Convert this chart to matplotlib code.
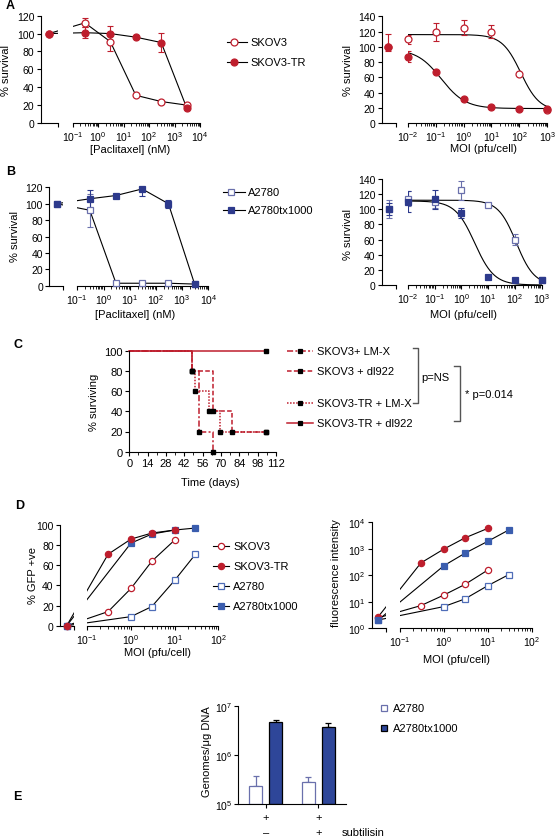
import numpy as np
import matplotlib
matplotlib.use('Agg')
import matplotlib.pyplot as plt
from matplotlib.lines import Line2D
from matplotlib.patches import Rectangle
from matplotlib import transforms
from matplotlib.ticker import (LogLocator, NullFormatter, FixedLocator,
                               LogFormatterMathtext, NullLocator, MultipleLocator)

# ---------------- data ----------------
CTRL = 100.0

# A left: paclitaxel dose response
pac_dose = [0.3, 3, 30, 300, 3000]
a1_skov3 = [112, 91, 31, 24, 20]
a1_skov3_err = [5, 10, 0, 0, 0]
a1_tr = [101, 100, 96, 90, 17]
a1_tr_err = [6, 9, 0, 11, 0]

# A right: MOI dose response (with fitted curves)
moi_6 = [0.01, 0.1, 1, 10, 100, 1000]
a2_skov3 = [110, 119, 125, 120, 64, 17]
a2_skov3_err = [6, 12, 10, 8, 0, 0]
a2_tr = [87, 67, 31, 21, 18, 19]
a2_tr_err = [7, 0, 0, 0, 0, 0]
a2_skov3_fit = [116, 16, 2.05, 1.3]   # top, bottom, logEC50, hill
a2_tr_fit = [97, 19, -0.8, 1.0]

# B left
b1_a2780 = [92, 3, 3, 3, 2]
b1_a2780_err = [20, 0, 0, 0, 0]
b1_tx = [106, 110, 118, 100, 2]
b1_tx_err = [11, 0, 8, 5, 0]

# B right
b2_a2780 = [114, 110, 125, 106, 60, 6]
b2_a2780_err = [10, 8, 13, 0, 7, 0]
b2_tx = [110, 113, 95, 11, 7, 6]
b2_tx_err = [14, 13, 7, 0, 0, 0]
b2_a2780_fit = [112, 0, 2.05, 1.3]
b2_tx_fit = [111, 0, 0.5, 1.2]

# C survival
c_labels = ['SKOV3+ LM-X', 'SKOV3 + dl922', 'SKOV3-TR + LM-X', 'SKOV3-TR + dl922']
c_times = [[0, 47.5, 53, 64],
           [0, 47.5, 64, 78.5, 104],
           [0, 48, 50, 61, 69.5, 104],
           [0, 104]]
c_surv = [[100, 80, 20, 0],
          [100, 80, 40, 20, 20],
          [100, 80, 60, 40, 20, 20],
          [100, 100]]

# D: GFP
d_labels = ['SKOV3', 'SKOV3-TR', 'A2780', 'A2780tx1000']
d_moi_skov = [0.3, 1, 3, 10]
d_moi_a2780 = [1, 3, 10, 30]
d_gfp_skov3 = [14, 37, 64, 85]
d_gfp_tr = [71, 86, 92, 95]
d_gfp_a2780 = [9, 19, 45, 71]
d_gfp_tx = [82, 91, 95, 97]
d_gfp_ctrl = [0, 0, 0, 0]
d_fl_skov3 = [7.2, 18, 45, 158]
d_fl_tr = [294, 980, 2570, 5900]
d_fl_a2780 = [6.6, 12.8, 40.7, 106]
d_fl_tx = [231, 676, 1920, 5130]
d_fl_ctrl = [2.5, 2.76, 2.06, 2.06]

# E: genomes
e_groups = ['-', '+']
e_a2780 = [2.3e5, 2.8e5]
e_a2780_errtop = [3.7e5, 3.5e5]
e_tx = [4.6e6, 3.7e6]
e_tx_errtop = [5.1e6, 4.5e6]

# ---------------- style ----------------
plt.rcParams['font.family'] = ['Liberation Sans', 'DejaVu Sans']
plt.rcParams['mathtext.fontset'] = 'custom'
plt.rcParams['mathtext.rm'] = 'Liberation Sans'
plt.rcParams['mathtext.it'] = 'Liberation Sans:italic'
plt.rcParams['mathtext.bf'] = 'Liberation Sans:bold'
plt.rcParams['font.size'] = 7
plt.rcParams['axes.linewidth'] = 0.8

TICKFS = 7.5
RED = '#BE1E2D'
NAVY = '#2D3A8C'
NAVY_OPEN = '#6A70AC'
BLUE = '#3A5DAE'
BLUE_OPEN = '#4F6DB8'
EBLUE = '#2E4699'

W, H = 556, 837
fig = plt.figure(figsize=(W / 100, H / 100), dpi=100)


def fx(x):
    return x / W


def fy(y):
    return 1 - y / H


def add_axes_px(x0, x1, ytop, ybot):
    ax = fig.add_axes([x0 / W, 1 - ybot / H, (x1 - x0) / W, (ybot - ytop) / H])
    ax.patch.set_visible(False)
    ax.spines['top'].set_visible(False)
    ax.spines['right'].set_visible(False)
    ax.tick_params(which='major', direction='out', length=3, width=0.8, labelsize=TICKFS, pad=1.5)
    ax.tick_params(which='minor', direction='out', length=1.8, width=0.6)
    return ax


def broken(left, end1, start2, end2, ytop, ybot, d0, d1, ctrl_px, ylog=False):
    dec = (end2 - start2) / (d1 - d0)
    a1 = add_axes_px(left, end1, ytop, ybot)
    a2 = add_axes_px(start2, end2, ytop, ybot)
    for a in (a1, a2):
        a.set_xscale('log')
        if ylog:
            a.set_yscale('log')
    a2.spines['left'].set_visible(False)
    a1.set_xlim(10 ** (d0 - (start2 - left) / dec), 10 ** (d0 - (start2 - end1) / dec))
    a2.set_xlim(10 ** d0, 10 ** d1)
    a1.xaxis.set_major_locator(FixedLocator([a1.get_xlim()[1]]))
    a1.xaxis.set_minor_locator(NullLocator())
    a1.xaxis.set_major_formatter(NullFormatter())
    a2.xaxis.set_major_locator(LogLocator(base=10, numticks=20))
    a2.xaxis.set_minor_locator(LogLocator(base=10, subs=np.arange(2, 10), numticks=20))
    a2.xaxis.set_major_formatter(LogFormatterMathtext())
    a2.xaxis.set_minor_formatter(NullFormatter())
    a2.tick_params(axis='y', which='both', left=False, labelleft=False)
    cx = 10 ** (d0 - (start2 - ctrl_px) / dec)
    return a1, a2, cx


def logistic(x, p):
    top, bot, lec, hill = p
    return bot + (top - bot) / (1 + 10 ** ((np.log10(x) - lec) * hill))


def series(a1, a2, cx, xs, ys, errs, ctrl, ctrl_err, color, marker, filled, ms,
           connect=True, fit=None, fitx=None, mec=None):
    mec = mec or color
    if connect:
        for a in (a1, a2):
            a.plot([cx] + list(xs), [ctrl] + list(ys), color='black', lw=0.8, zorder=2)
    if fit is not None:
        xx = np.logspace(fitx[0], fitx[1], 300)
        a2.plot(xx, logistic(xx, fit), color='black', lw=0.8, zorder=2)
    ekw = dict(fmt='none', ecolor=mec, elinewidth=0.8, capsize=2.5, capthick=0.8, zorder=3)
    if errs is not None:
        xe = [x for x, e in zip(xs, errs) if e > 0]
        ye = [y for y, e in zip(ys, errs) if e > 0]
        ee = [e for e in errs if e > 0]
        if xe:
            a2.errorbar(xe, ye, yerr=ee, **ekw)
    if ctrl_err is not None:
        a1.errorbar([cx], [ctrl], yerr=ctrl_err, **ekw)
    mk = dict(marker=marker, ms=ms, ls='none', mec=mec, mew=0.9,
              mfc=(color if filled else 'white'), zorder=4, clip_on=False)
    a1.plot([cx], [ctrl], **mk)
    a2.plot(xs, ys, **mk)


def legend_entry(x0, x1, xm, xt, y, label, marker=None, mfc='none', mec='k', ms=5,
                 lc='black', ls='-', lw=0.8, fs=8):
    fig.add_artist(Line2D([fx(x0), fx(x1)], [fy(y), fy(y)], transform=fig.transFigure,
                          color=lc, lw=lw, ls=ls))
    if marker:
        fig.add_artist(Line2D([fx(xm)], [fy(y)], transform=fig.transFigure, ls='none',
                              marker=marker, ms=ms, mfc=mfc, mec=mec, mew=0.9))
    fig.text(fx(xt), fy(y), label, ha='left', va='center', fontsize=fs)


def label(x, y, s, rot=0, fs=8, **kw):
    fig.text(fx(x), fy(y), s, ha='center', va='center', rotation=rot, fontsize=fs, **kw)


# ---------------- Panel A left ----------------
a1, a2, cx = broken(40.7, 58, 72.7, 200, 16.7, 124, -1, 4, 49)
a1.set_ylim(0, 120)
a2.set_ylim(0, 120)
a1.set_yticks(np.arange(0, 121, 20))
series(a1, a2, cx, pac_dose, a1_skov3, a1_skov3_err, CTRL, None, RED, 'o', False, 5)
series(a1, a2, cx, pac_dose, a1_tr, a1_tr_err, CTRL, 2, RED, 'o', True, 5)
label(130, 150, '[Paclitaxel] (nM)')
label(6, 70, '% survival', rot=90)
legend_entry(227, 247, 234, 250, 43, 'SKOV3', 'o', 'white', RED)
legend_entry(227, 247, 234, 250, 63, 'SKOV3-TR', 'o', RED, RED)
fig.text(fx(6), fy(6), 'A', fontsize=9, fontweight='bold', ha='left', va='center')

# ---------------- Panel A right ----------------
a1, a2, cx = broken(381.7, 396, 407.7, 547.3, 17.3, 124, -2, 3, 388.3)
a1.set_ylim(0, 140)
a2.set_ylim(0, 140)
a1.set_yticks(np.arange(0, 141, 20))
series(a1, a2, cx, moi_6, a2_skov3, a2_skov3_err, CTRL, [[5], [17]], RED, 'o', False, 5,
       connect=False, fit=a2_skov3_fit, fitx=(-2, 3))
series(a1, a2, cx, moi_6, a2_tr, a2_tr_err, CTRL, None, RED, 'o', True, 5,
       connect=False, fit=a2_tr_fit, fitx=(-2, 3))
label(483, 149, 'MOI (pfu/cell)')
label(348, 70, '% survival', rot=90)

# ---------------- Panel B left ----------------
a1, a2, cx = broken(49.3, 63.3, 77.3, 208.3, 188.3, 286.7, -1, 4, 56.7)
a1.set_ylim(0, 120)
a2.set_ylim(0, 120)
a1.set_yticks(np.arange(0, 121, 20))
series(a1, a2, cx, pac_dose, b1_a2780, b1_a2780_err, CTRL, None, NAVY, 's', False, 4.5, mec=NAVY_OPEN)
series(a1, a2, cx, pac_dose, b1_tx, b1_tx_err, CTRL, None, NAVY, 's', True, 4.5)
label(135, 315, '[Paclitaxel] (nM)')
label(15, 237, '% survival', rot=90)
legend_entry(223, 245, 231, 248, 193, 'A2780', 's', 'white', NAVY_OPEN, ms=4.5)
legend_entry(223, 245, 231, 248, 210.7, 'A2780tx1000', 's', NAVY, NAVY, ms=4.5)
fig.text(fx(6), fy(172), 'B', fontsize=9, fontweight='bold', ha='left', va='center')

# ---------------- Panel B right ----------------
a1, a2, cx = broken(381.7, 396, 407.7, 541.7, 180, 286, -2, 3, 389)
a1.set_ylim(0, 140)
a2.set_ylim(0, 140)
a1.set_yticks(np.arange(0, 141, 20))
series(a1, a2, cx, moi_6, b2_a2780, b2_a2780_err, CTRL, 12, NAVY, 's', False, 4.5,
       connect=False, fit=b2_a2780_fit, fitx=(-2, 3), mec=NAVY_OPEN)
series(a1, a2, cx, moi_6, b2_tx, b2_tx_err, CTRL, 8, NAVY, 's', True, 4.5,
       connect=False, fit=b2_tx_fit, fitx=(-2, 3))
label(463, 315, 'MOI (pfu/cell)')
label(348, 235, '% survival', rot=90)

# ---------------- Panel C ----------------
ax = add_axes_px(129.3, 276, 351.7, 452.7)
ax.set_xlim(0, 112)
ax.set_ylim(0, 100)
ax.set_xticks(np.arange(0, 113, 14))
ax.xaxis.set_minor_locator(MultipleLocator(7))
ax.set_yticks(np.arange(0, 101, 20))
ax.tick_params(labelsize=8)
c_styles = [(0, (4, 1.5, 1.3, 1.5)), (0, (3, 1.5)), (0, (1, 1)), '-']
for t, s, st in zip(c_times, c_surv, c_styles):
    ax.step(t, s, where='post', color=RED, lw=1.1, ls=st, zorder=2, clip_on=False)
    ax.plot(t[1:], s[1:], ls='none', marker='s', ms=2.2, color='black', zorder=3, clip_on=False)
label(210, 482.7, 'Time (days)')
label(94, 402, '% surviving', rot=90)
for lab, st, y in zip(c_labels, c_styles, [352, 372.3, 404, 424]):
    legend_entry(287, 313, 300, 317, y, lab, 's', 'black', 'black', ms=2.2,
                 lc=RED, ls=st, lw=1.1)
GR = '#555555'
for xv, xl, y0, y1 in [(418, 413, 349, 404), (460, 454, 367, 421.7)]:
    fig.add_artist(Line2D([fx(xl), fx(xv), fx(xv), fx(xl)], [fy(y0), fy(y0), fy(y1), fy(y1)],
                          transform=fig.transFigure, color=GR, lw=1.0))
fig.text(fx(421), fy(377.7), 'p=NS', ha='left', va='center', fontsize=8)
fig.text(fx(465), fy(395), '* p=0.014', ha='left', va='center', fontsize=8)
fig.text(fx(13), fy(345), 'C', fontsize=9, fontweight='bold', ha='left', va='center')

# ---------------- Panel D left ----------------
a1, a2, cx = broken(60, 74, 87.3, 218.3, 526, 626.7, -1, 2, 66.7)
a1.set_ylim(0, 100)
a2.set_ylim(0, 100)
a1.set_yticks(np.arange(0, 101, 20))
series(a1, a2, cx, d_moi_skov, d_gfp_skov3, None, d_gfp_ctrl[0], None, RED, 'o', False, 4.5)
series(a1, a2, cx, d_moi_a2780, d_gfp_a2780, None, d_gfp_ctrl[2], None, BLUE, 's', False, 4.5, mec=BLUE_OPEN)
series(a1, a2, cx, d_moi_a2780, d_gfp_tx, None, d_gfp_ctrl[3], None, BLUE, 's', True, 4.5)
series(a1, a2, cx, d_moi_skov, d_gfp_tr, None, d_gfp_ctrl[1], None, RED, 'o', True, 4.5)
label(157, 653, 'MOI (pfu/cell)')
label(33, 575, '% GFP +ve', rot=90)
for lab, mk, mfc, mec, y in zip(d_labels, ['o', 'o', 's', 's'],
                                ['white', RED, 'white', BLUE],
                                [RED, RED, BLUE_OPEN, BLUE],
                                [546.7, 567.3, 587.3, 606.7]):
    legend_entry(213, 229, 221, 233, y, lab, mk, mfc, mec, ms=4.5)
fig.text(fx(15), fy(506), 'D', fontsize=9, fontweight='bold', ha='left', va='center')

# ---------------- Panel D right ----------------
a1, a2, cx = broken(371.7, 386, 400, 531.7, 523.3, 629.3, -1, 2, 378.3, ylog=True)
a1.set_ylim(1, 1e4)
a2.set_ylim(1, 1e4)
a1.yaxis.set_major_locator(FixedLocator([1, 10, 100, 1000, 10000]))
a1.yaxis.set_minor_locator(NullLocator())
a1.yaxis.set_major_formatter(LogFormatterMathtext())
series(a1, a2, cx, d_moi_skov, d_fl_skov3, None, d_fl_ctrl[0], None, RED, 'o', False, 4.5)
series(a1, a2, cx, d_moi_a2780, d_fl_a2780, None, d_fl_ctrl[2], None, BLUE, 's', False, 4.5, mec=BLUE_OPEN)
series(a1, a2, cx, d_moi_skov, d_fl_tr, None, d_fl_ctrl[1], None, RED, 'o', True, 4.5)
series(a1, a2, cx, d_moi_a2780, d_fl_tx, None, d_fl_ctrl[3], None, BLUE, 's', True, 4.5)
label(456.7, 660, 'MOI (pfu/cell)')
label(336, 573, 'fluorescence intensity', rot=90)

# ---------------- Panel E ----------------
ax = add_axes_px(238.3, 346, 706.7, 805)
ax.set_yscale('log')
ax.set_ylim(1e5, 1e7)
ax.set_xlim(-0.52, 1.527)
ax.yaxis.set_major_locator(FixedLocator([1e5, 1e6, 1e7]))
ax.yaxis.set_minor_locator(NullLocator())
ax.yaxis.set_major_formatter(LogFormatterMathtext())
ax.tick_params(axis='y', pad=1.0)
xg = np.arange(len(e_groups))
bw, off = 0.257, 0.19
ax.bar(xg - off, np.array(e_a2780) - 1e5, bottom=1e5, width=bw, color='white',
       edgecolor=NAVY_OPEN, lw=0.9, zorder=2)
ax.bar(xg + off, np.array(e_tx) - 1e5, bottom=1e5, width=bw, color=EBLUE,
       edgecolor='black', lw=0.9, zorder=2)
ax.errorbar(xg - off, e_a2780, yerr=[np.zeros(2), np.array(e_a2780_errtop) - np.array(e_a2780)],
            fmt='none', ecolor=NAVY_OPEN, elinewidth=0.9, capsize=2.5, capthick=0.9, zorder=1)
ax.errorbar(xg + off, e_tx, yerr=[np.zeros(2), np.array(e_tx_errtop) - np.array(e_tx)],
            fmt='none', ecolor='black', elinewidth=0.9, capsize=2.5, capthick=0.9, zorder=1)
ax.set_xticks(xg)
ax.set_xticklabels([])
tr = transforms.blended_transform_factory(ax.transData, fig.transFigure)
for xi, g in zip(xg, e_groups):
    ax.text(xi, fy(818.3), '+', transform=tr, ha='center', va='center', fontsize=8)
    ax.text(xi, fy(832.7), '\u2013' if g == '-' else '+', transform=tr, ha='center',
            va='center', fontsize=8)
fig.text(fx(341.7), fy(832.7), 'subtilisin', ha='left', va='center', fontsize=8)
label(207.5, 752, 'Genomes/\u03bcg DNA', rot=90)
fig.patches.append(Rectangle((fx(380.7), fy(712)), 6 / W, 6 / H, transform=fig.transFigure,
                             facecolor='white', edgecolor=NAVY_OPEN, lw=0.9))
fig.patches.append(Rectangle((fx(380.7), fy(732.3)), 6 / W, 6 / H, transform=fig.transFigure,
                             facecolor=EBLUE, edgecolor='black', lw=0.9))
fig.text(fx(392.7), fy(709), 'A2780', ha='left', va='center', fontsize=8)
fig.text(fx(392.7), fy(729.3), 'A2780tx1000', ha='left', va='center', fontsize=8)
fig.text(fx(13), fy(797), 'E', fontsize=9, fontweight='bold', ha='left', va='center')

fig.savefig('out.png', dpi=100)
